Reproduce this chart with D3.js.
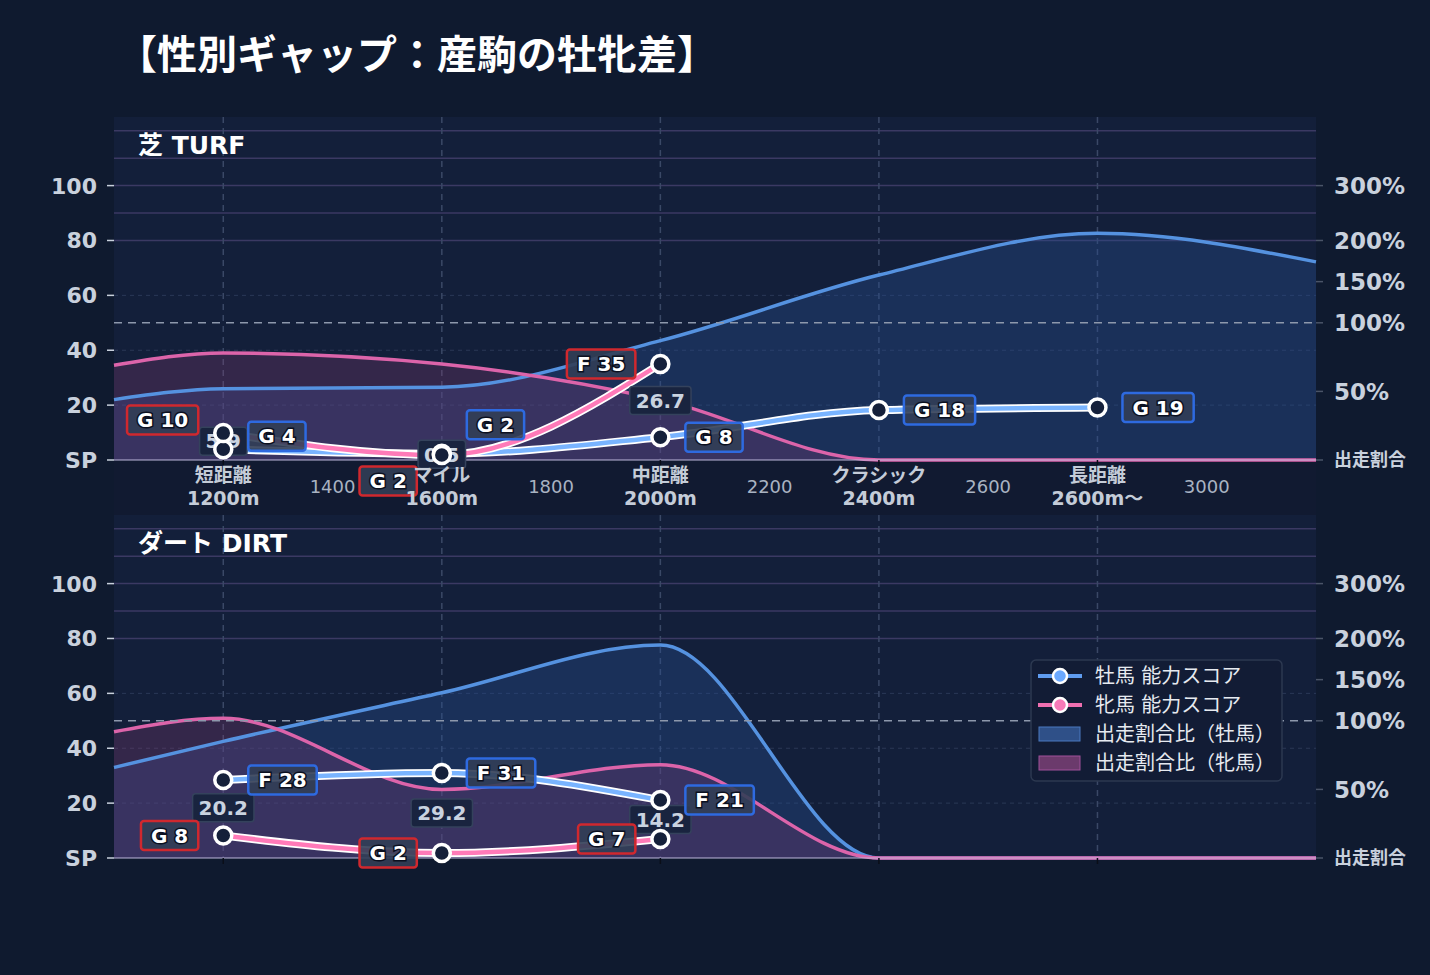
<!DOCTYPE html>
<html>
<head>
<meta charset="utf-8">
<script src="https://cdn.jsdelivr.net/npm/d3@7"></script>
<style>
body { margin: 0; background: #0f1a2f; }
text { font-family: "DejaVu Sans", "Noto Sans CJK JP", sans-serif; }
</style>
</head>
<body>
<div id="chart"></div>
<script>
// categories (distance position on the x scale)
var distances = [1200, 1600, 2000, 2400, 2800];
var distNames = ["短距離", "マイル", "中距離", "クラシック", "長距離"];
var distLabels = ["1200m", "1600m", "2000m", "2400m", "2600m〜"];
var minorTicks = [1400, 1800, 2200, 2600, 3000];

// 出走割合比 (%) read along the distance axis
var ratioX = [1000, 1200, 1600, 2000, 2400, 2800, 3200];
var turfMaleRatio   = [44, 52, 53, 87, 158, 213, 174];
var turfFemaleRatio = [69, 78, 70, 44, 0, 0, 0];
var dirtMaleRatio   = [66, 85, 134, 192, 0, 0, 0];
var dirtFemaleRatio = [92, 103, 50, 68, 0, 0, 0];

// 能力スコア per category
var turfMaleScore   = [3.9, 2.3, 8.3, 18.2, 19.1];
var turfFemaleScore = [9.8, 1.8, 35.0, null, null];
var dirtMaleScore   = [28.4, 31.0, 21.1, null, null];
var dirtFemaleScore = [8.2, 1.8, 6.9, null, null];

// axis ticks
var scoreTicks = [0, 20, 40, 60, 80, 100];
var ratioTicks = [0, 50, 100, 150, 200, 300];
var ratioGrid = [200, 250, 300, 350, 400];

var width = 1430, height = 975;
var plotH = 343;

var svg = d3.select("#chart").append("svg")
    .attr("width", width)
    .attr("height", height);

svg.append("rect").attr("width", width).attr("height", height).attr("fill", "#0f1a2f");

var x = d3.scaleLinear().domain([1000, 3200]).range([114, 1316]);
// ratio (%) -> score units on the shared y scale
var ratioToScore = d3.scaleLinear().domain([0, 100, 200, 400]).range([0, 50, 80, 120]);

function grade(v) {
  if (v < 20) return "G";
  if (v < 40) return "F";
  if (v < 50) return "E";
  if (v < 60) return "D";
  return "C";
}

svg.append("text")
    .attr("x", 117)
    .attr("y", 55)
    .attr("dy", "0.35em")
    .attr("fill", "#ffffff")
    .attr("font-size", 40)
    .attr("font-weight", "bold")
    .text("【性別ギャップ：産駒の牡牝差】");

var blueLine = "#5592e0", pinkLine = "#dc64aa";

function drawPanel(p) {
  var g = svg.append("g");
  var bottom = p.top + plotH;
  var y = d3.scaleLinear().domain([0, 125]).range([bottom, p.top]);

  g.append("rect").attr("x", 114).attr("y", p.top).attr("width", 1202).attr("height", plotH + (p.xLabels ? 55 : 0))
      .attr("fill", "#111a31");
  g.append("rect").attr("x", 114).attr("y", p.top).attr("width", 1202).attr("height", plotH)
      .attr("fill", "#131f3a");

  // score grid
  g.selectAll(".sg").data([20, 40, 60]).enter().append("line")
      .attr("x1", 114).attr("x2", 1316)
      .attr("y1", function (d) { return y(d); }).attr("y2", function (d) { return y(d); })
      .attr("stroke", "#2a3856").attr("stroke-width", 1).attr("stroke-dasharray", "4,4");
  // ratio grid
  g.selectAll(".rg").data(ratioGrid).enter().append("line")
      .attr("x1", 114).attr("x2", 1316)
      .attr("y1", function (d) { return y(ratioToScore(d)); }).attr("y2", function (d) { return y(ratioToScore(d)); })
      .attr("stroke", "#3b3963").attr("stroke-width", 1.5);
  // vertical category grid
  g.selectAll(".vg").data(distances).enter().append("line")
      .attr("x1", function (d) { return x(d); }).attr("x2", function (d) { return x(d); })
      .attr("y1", p.top).attr("y2", bottom)
      .attr("stroke", "#3a4866").attr("stroke-width", 1.5).attr("stroke-dasharray", "6,5");

  // ratio areas
  var area = d3.area()
      .x(function (d, i) { return x(ratioX[i]); })
      .y0(bottom)
      .y1(function (d) { return y(ratioToScore(d)); })
      .curve(d3.curveMonotoneX);
  var rline = area.lineY1();

  g.append("path").attr("d", area(p.maleRatio)).attr("fill", "rgba(40,80,150,0.35)");
  g.append("path").attr("d", area(p.femaleRatio)).attr("fill", "rgba(140,60,120,0.28)");
  g.append("path").attr("d", rline(p.maleRatio)).attr("fill", "none").attr("stroke", blueLine).attr("stroke-width", 3.5);
  g.append("path").attr("d", rline(p.femaleRatio)).attr("fill", "none").attr("stroke", pinkLine).attr("stroke-width", 3.5);

  // 100% reference
  g.append("line").attr("x1", 114).attr("x2", 1316)
      .attr("y1", y(ratioToScore(100))).attr("y2", y(ratioToScore(100)))
      .attr("stroke", "#8d98ac").attr("stroke-width", 1.5).attr("stroke-dasharray", "8,6");

  // x axis line and ticks
  g.append("line").attr("x1", 114).attr("x2", 1316).attr("y1", bottom).attr("y2", bottom)
      .attr("stroke", "#bdb7dc").attr("stroke-width", 1.2);
  g.selectAll(".xt").data(distances).enter().append("line")
      .attr("x1", function (d) { return x(d); }).attr("x2", function (d) { return x(d); })
      .attr("y1", bottom).attr("y2", bottom + 6)
      .attr("stroke", "#0a0e18").attr("stroke-width", 1.5);

  // score lines
  var sline = d3.line()
      .defined(function (d) { return d != null; })
      .x(function (d, i) { return x(distances[i]); })
      .y(function (d) { return y(d); })
      .curve(d3.curveMonotoneX);
  [[p.maleScore, "#79b4ff"], [p.femaleScore, "#ff7ab8"]].forEach(function (s) {
    g.append("path").attr("d", sline(s[0])).attr("fill", "none").attr("stroke", "#ffffff").attr("stroke-width", 8);
    g.append("path").attr("d", sline(s[0])).attr("fill", "none").attr("stroke", s[1]).attr("stroke-width", 4.5);
  });

  // gap labels
  distances.forEach(function (d, i) {
    var m = p.maleScore[i], f = p.femaleScore[i];
    if (m == null || f == null) return;
    var cy = (y(m) + y(f)) / 2;
    var lg = g.append("g");
    var t = lg.append("text").attr("x", x(d)).attr("y", cy).attr("dy", "0.36em")
        .attr("text-anchor", "middle").attr("font-size", 20).attr("font-weight", "bold")
        .attr("fill", "#c9d3e0").text(Math.abs(f - m).toFixed(1));
    var w = t.node().getComputedTextLength() + 12;
    lg.insert("rect", "text").attr("x", x(d) - w / 2).attr("y", cy - 14).attr("width", w).attr("height", 28)
        .attr("rx", 3).attr("fill", "#19243f").attr("stroke", "#34425c").attr("stroke-width", 1.5);
  });

  // points
  [p.maleScore, p.femaleScore].forEach(function (s) {
    s.forEach(function (v, i) {
      if (v == null) return;
      g.append("circle").attr("cx", x(distances[i])).attr("cy", y(v)).attr("r", 8.5)
          .attr("fill", "#15203a").attr("stroke", "#ffffff").attr("stroke-width", 3.5);
    });
  });

  // score labels
  function scoreLabel(s, nudge, side, color) {
    s.forEach(function (v, i) {
      if (v == null) return;
      var cx = x(distances[i]), cy = y(v) + nudge[i];
      var lg = g.append("g");
      var t = lg.append("text").attr("y", cy).attr("dy", "0.36em")
          .attr("font-size", 20).attr("font-weight", "bold").attr("fill", "#ffffff")
          .attr("stroke", "#0b1020").attr("stroke-width", 3).attr("paint-order", "stroke")
          .attr("text-anchor", "middle")
          .text(grade(v) + " " + Math.round(v));
      var w = t.node().getComputedTextLength() + 20;
      var left = side > 0 ? cx + 25 : cx - 25 - w;
      t.attr("x", left + w / 2);
      lg.insert("rect", "text").attr("x", left).attr("y", cy - 14.5).attr("width", w).attr("height", 29)
          .attr("rx", 3).attr("fill", "rgba(50,62,86,0.9)").attr("stroke", color).attr("stroke-width", 2.5);
    });
  }
  scoreLabel(p.maleScore, p.maleNudge, 1, "#2e6ae0");
  scoreLabel(p.femaleScore, p.femaleNudge, -1, "#d0282e");

  // left axis
  scoreTicks.forEach(function (t) {
    g.append("line").attr("x1", 107).attr("x2", 114).attr("y1", y(t)).attr("y2", y(t))
        .attr("stroke", "#c8d0dc").attr("stroke-width", 1.5);
    g.append("text").attr("x", 97).attr("y", y(t)).attr("dy", "0.36em").attr("text-anchor", "end")
        .attr("font-size", 22).attr("font-weight", "bold").attr("fill", "#c9d1dd")
        .text(t === 0 ? "SP" : t);
  });
  // right axis
  ratioTicks.forEach(function (t) {
    var yy = y(ratioToScore(t));
    g.append("line").attr("x1", 1316).attr("x2", 1323).attr("y1", yy).attr("y2", yy)
        .attr("stroke", "#4a5468").attr("stroke-width", 1.5);
    g.append("text").attr("x", 1334).attr("y", yy).attr("dy", "0.36em")
        .attr("font-size", t === 0 ? 18 : 23).attr("font-weight", "bold").attr("fill", "#c9d1dd")
        .text(t === 0 ? "出走割合" : t + "%");
  });

  // x labels
  if (p.xLabels) {
    distances.forEach(function (d, i) {
      g.append("text").attr("x", x(d)).attr("y", bottom + 15).attr("dy", "0.36em").attr("text-anchor", "middle")
          .attr("font-size", 19).attr("font-weight", "bold").attr("fill", "#c4ccd8").text(distNames[i]);
      g.append("text").attr("x", x(d)).attr("y", bottom + 38).attr("dy", "0.36em").attr("text-anchor", "middle")
          .attr("font-size", 19).attr("font-weight", "bold").attr("fill", "#c4ccd8").text(distLabels[i]);
    });
    minorTicks.forEach(function (d) {
      g.append("text").attr("x", x(d)).attr("y", bottom + 27).attr("dy", "0.36em").attr("text-anchor", "middle")
          .attr("font-size", 18).attr("fill", "#a9b3c2").text(d);
    });
  }

  g.append("text").attr("x", 138).attr("y", p.top + 28).attr("dy", "0.36em")
      .attr("font-size", 25).attr("font-weight", "bold").attr("fill", "#ffffff").text(p.name);

  return g;
}

drawPanel({
  name: "芝 TURF", top: 117, xLabels: true,
  maleRatio: turfMaleRatio, femaleRatio: turfFemaleRatio,
  maleScore: turfMaleScore, femaleScore: turfFemaleScore,
  maleNudge: [-13, -29, 0, 0, 0], femaleNudge: [-13, 26, 0, 0, 0]
});

var dirt = drawPanel({
  name: "ダート DIRT", top: 515, xLabels: false,
  maleRatio: dirtMaleRatio, femaleRatio: dirtFemaleRatio,
  maleScore: dirtMaleScore, femaleScore: dirtFemaleScore,
  maleNudge: [0, 0, 0, 0, 0], femaleNudge: [0, 0, 0, 0, 0]
});

// legend
var legendItems = ["牡馬 能力スコア", "牝馬 能力スコア", "出走割合比（牡馬）", "出走割合比（牝馬）"];
var leg = dirt.append("g");
leg.append("rect").attr("x", 1031).attr("y", 660).attr("width", 251).attr("height", 121).attr("rx", 5)
    .attr("fill", "#121c35").attr("stroke", "#2c3850").attr("stroke-width", 1.5);
legendItems.forEach(function (name, i) {
  var ly = 676 + i * 29;
  if (i < 2) {
    leg.append("line").attr("x1", 1038).attr("x2", 1082).attr("y1", ly).attr("y2", ly)
        .attr("stroke", i === 0 ? "#5f9cf0" : "#ef6fb0").attr("stroke-width", 4);
    leg.append("circle").attr("cx", 1060).attr("cy", ly).attr("r", 7)
        .attr("fill", i === 0 ? "#6aa8ff" : "#f77ab8").attr("stroke", "#ffffff").attr("stroke-width", 2.5);
  } else {
    leg.append("rect").attr("x", 1039).attr("y", ly - 7).attr("width", 41).attr("height", 14)
        .attr("fill", i === 2 ? "#2f5088" : "#6b3a6c").attr("stroke", i === 2 ? "#4a78c0" : "#a0509a");
  }
  leg.append("text").attr("x", 1095).attr("y", ly).attr("dy", "0.36em")
      .attr("font-size", 20).attr("fill", "#e6eaf0").text(name);
});
</script>
</body>
</html>
